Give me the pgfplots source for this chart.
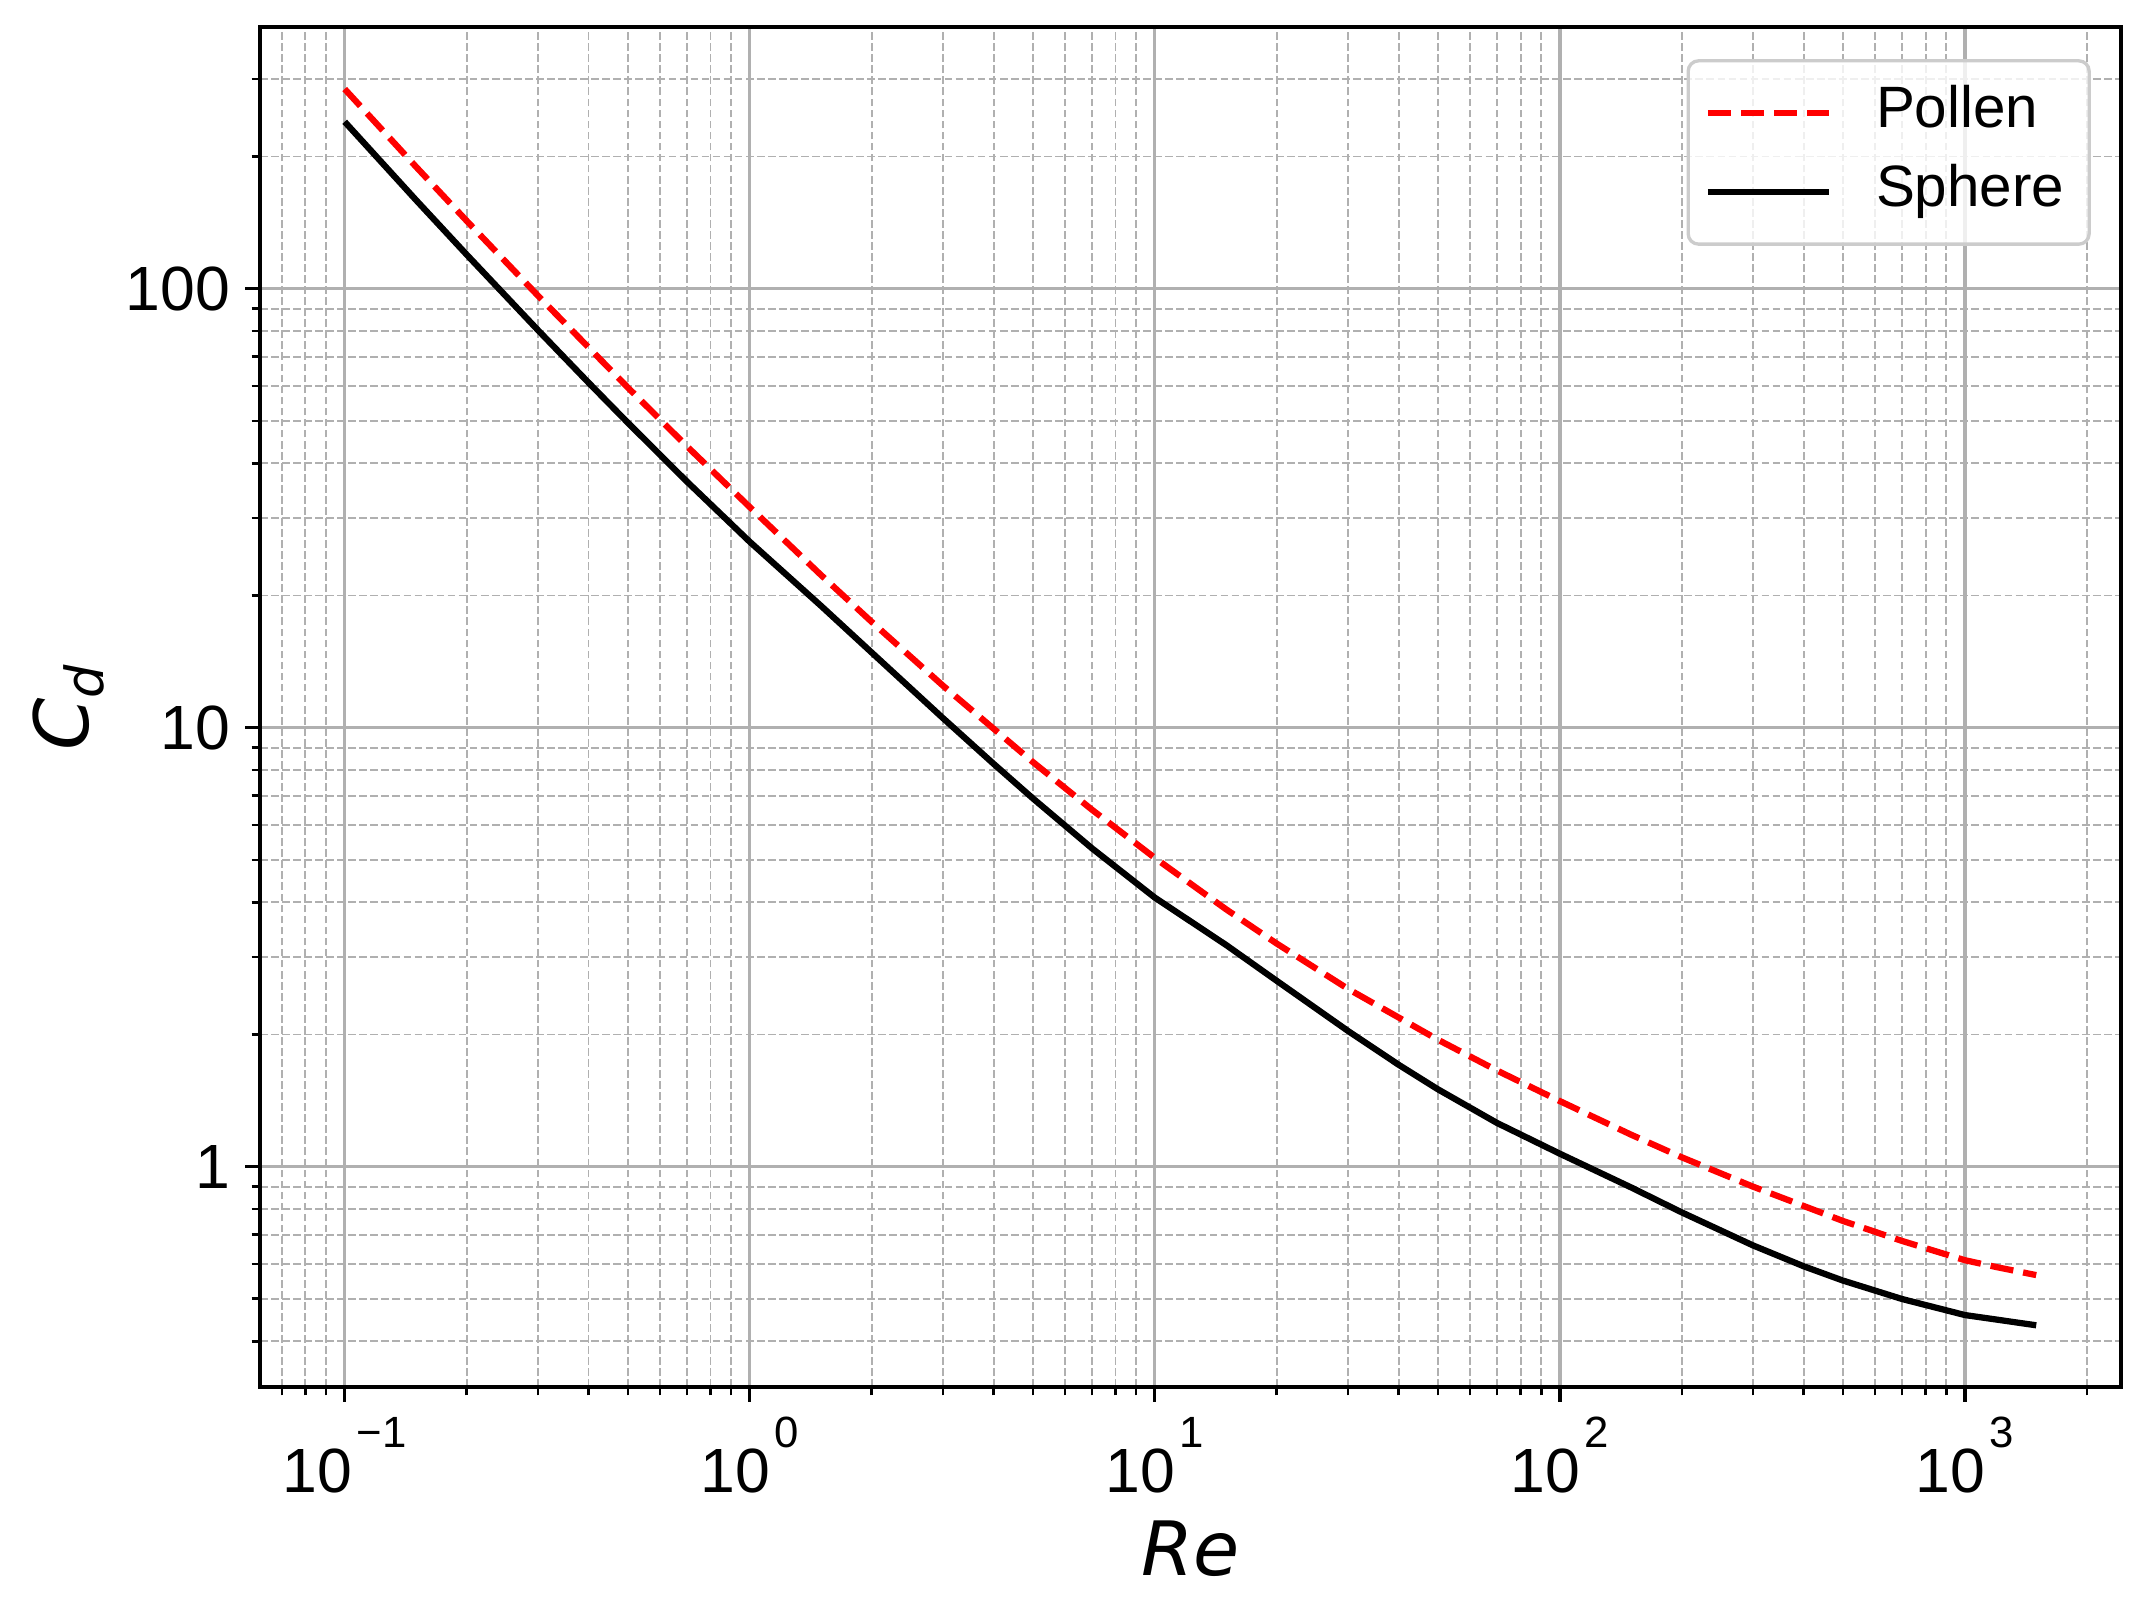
\documentclass[border=0pt]{standalone}
\usepackage{pgfplots}
\pgfplotsset{compat=1.18}
\usepackage{pgfplotstable}
\usepackage{fontspec}
\setmainfont{Liberation Sans}
\newfontfamily\dejavu{DejaVu Sans}

% drag coefficient
\pgfplotstableread{
Re Cd
0.1 285
0.15 189.6
0.2 142.8
0.3 96.4
0.5 59.55
0.7 43.74
1 31.8
1.5 22.26
2 17.42
3 12.46
5 8.35
7 6.50
10 5.05
15 3.856
20 3.222
30 2.54
50 1.946
70 1.655
100 1.41
150 1.182
200 1.050
300 0.90
500 0.752
700 0.677
1000 0.612
1200 0.590
1500 0.566
}\pollen

\pgfplotstableread{
Re Cd
0.1 240.0
0.15 159.2
0.2 119.6
0.3 80.46
0.4 61.08
0.5 49.51
0.7 36.35
1 26.51
1.5 18.94
2 14.83
3 10.51
4 8.271
5 6.900
7 5.309
10 4.100
15 3.198
20 2.650
30 2.037
40 1.706
50 1.500
70 1.257
100 1.070
150 0.8964
200 0.7866
300 0.6613
400 0.5928
500 0.5500
700 0.4992
1000 0.4590
1500 0.4350
}\sphere

\definecolor{gridgray}{HTML}{B0B0B0}
\newcommand\ex[1]{\kern1pt\raisebox{0.72em}{\fontsize{10.5}{12}\selectfont #1}}

\begin{document}
\begin{tikzpicture}
\begin{axis}[
  scale only axis,
  width=446.6pt, height=326.4pt,
  xmode=log, ymode=log,
  xmin=0.0618, xmax=2427,
  ymin=0.3146, ymax=394.4,
  xtick={0.1,1,10,100,1000},
  xticklabels={10\ex{−1},10\ex{0},10\ex{1},10\ex{2},10\ex{3}},
  minor xtick={0.07,0.08,0.09,0.2,0.3,0.4,0.5,0.6,0.7,0.8,0.9,2,3,4,5,6,7,8,9,20,30,40,50,60,70,80,90,200,300,400,500,600,700,800,900,2000},
  ytick={1,10,100},
  yticklabels={1,10,100},
  minor ytick={0.4,0.5,0.6,0.7,0.8,0.9,2,3,4,5,6,7,8,9,20,30,40,50,60,70,80,90,200,300},
  tick pos=left,
  tick align=outside,
  major tick length=3.5pt,
  minor tick length=2pt,
  every tick/.style={black, line width=0.8pt},
  every minor tick/.style={black, line width=0.6pt},
  axis line style={line width=0.8pt},
  grid=both,
  major grid style={solid, gridgray, line width=0.8pt},
  minor grid style={gridgray, line width=0.45pt, dash pattern=on 1.85pt off 0.8pt},
  ticklabel style={font=\fontsize{15}{18}\selectfont},
  xticklabel style={inner sep=0pt, yshift=-3.5pt},
  yticklabel style={inner sep=0pt, xshift=-3.5pt},
  xlabel={\dejavu\itshape Re},
  ylabel={\dejavu\itshape C\textsubscript{d}},
  label style={font=\fontsize{18}{22}\selectfont},
  xlabel style={at={(axis description cs:0.5,-0.119)}, anchor=center},
  ylabel style={at={(axis description cs:-0.103,0.5)}, anchor=center},
  legend cell align=left,
  legend image code/.code={\draw[#1] (0pt,0pt) -- (29pt,0pt);},
  legend style={
    at={(1,1)}, anchor=north east, xshift=-7.2pt, yshift=-7.7pt,
    draw=black!20, line width=0.8pt, rounded corners=2.5pt,
    fill=white, fill opacity=0.8, text opacity=1,
    font=\fontsize{14}{17}\selectfont,
    inner xsep=4pt, inner ysep=4pt, row sep=2pt,
    nodes={text height=10pt, text depth=3pt},
    /tikz/every odd column/.append style={column sep=8.6pt},
  },
]
\addplot[red, line width=1.5pt, dash pattern=on 5.55pt off 2.4pt] table[x=Re, y=Cd] {\pollen};
\addlegendentry{Pollen}
\addplot[black, line width=1.5pt] table[x=Re, y=Cd] {\sphere};
\addlegendentry{Sphere}
\end{axis}
\path ([xshift=-62.4pt, yshift=-55.9pt]current axis.south west) rectangle ([xshift=7pt, yshift=6.5pt]current axis.north east);
\end{tikzpicture}
\end{document}
